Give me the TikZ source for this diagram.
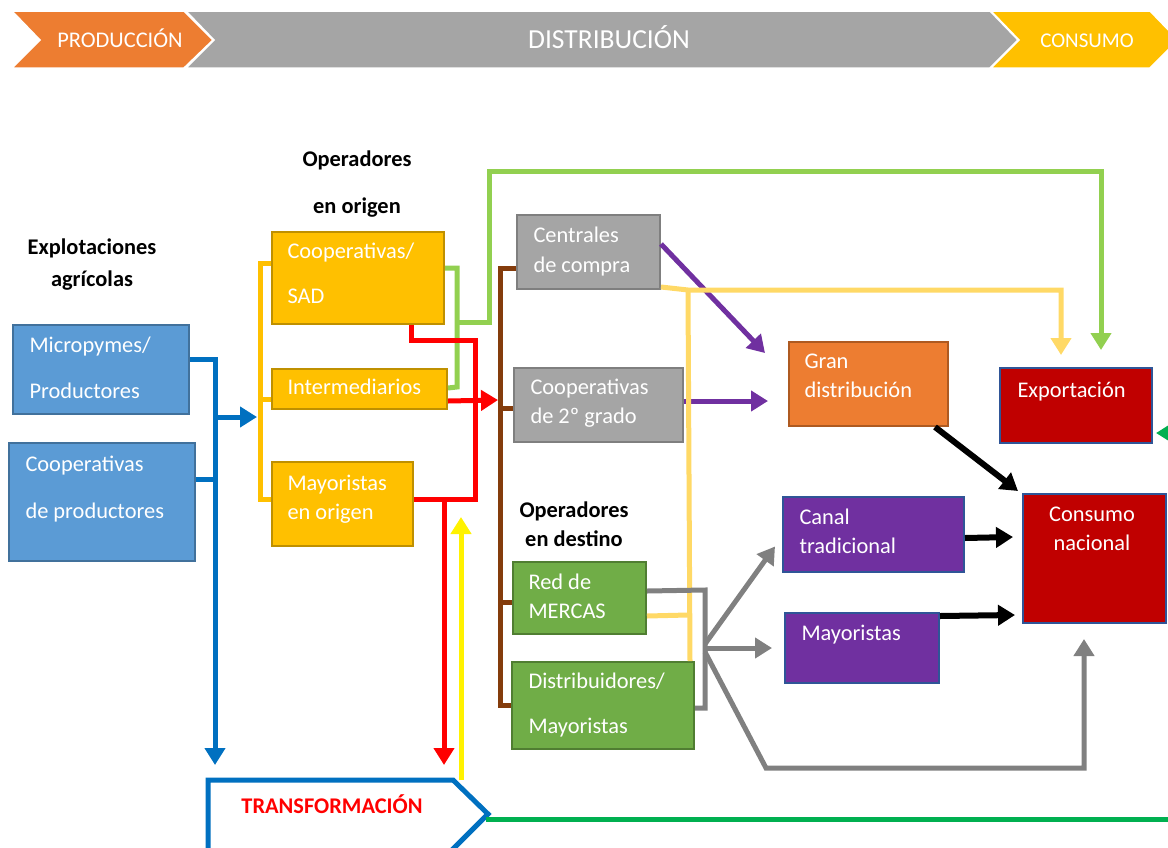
\documentclass[tikz,border=0pt]{standalone}
\usepackage{fontspec}
\setmainfont{Carlito}
\usetikzlibrary{arrows.meta}

\definecolor{prodblue}{HTML}{5B9BD5}
\definecolor{prodedge}{HTML}{41719C}
\definecolor{origgold}{HTML}{FFC000}
\definecolor{origedge}{HTML}{BF9000}
\definecolor{destgray}{HTML}{A5A5A5}
\definecolor{grayedge}{HTML}{7F7F7F}
\definecolor{granorange}{HTML}{ED7D31}
\definecolor{orangeedge}{HTML}{AE5A21}
\definecolor{consred}{HTML}{C00000}
\definecolor{navyedge}{HTML}{2F5597}
\definecolor{mercgreen}{HTML}{70AD47}
\definecolor{greenedge}{HTML}{507E32}
\definecolor{canalpurple}{HTML}{7030A0}
\definecolor{linkblue}{HTML}{0070C0}
\definecolor{linkgreen}{HTML}{92D050}
\definecolor{linkbrown}{HTML}{843C0C}
\definecolor{linkpale}{HTML}{FFD966}
\definecolor{linkgray}{HTML}{808080}
\definecolor{linkexp}{HTML}{00B050}

\begin{document}
\begin{tikzpicture}
[x=1pt, y=-1pt, line width=5pt,
font=\fontsize{22.4}{29}\selectfont,
box/.style={rectangle, draw, line width=2pt, inner sep=0pt, anchor=north west},
prodbox/.style={box, fill=prodblue, draw=prodedge},
origbox/.style={box, fill=origgold, draw=origedge},
centbox/.style={box, fill=destgray, draw=grayedge},
granbox/.style={box, fill=granorange, draw=orangeedge},
consbox/.style={box, fill=consred, draw=navyedge},
mercbox/.style={box, fill=mercgreen, draw=greenedge},
canalbox/.style={box, fill=canalpurple, draw=navyedge},
txt/.style={anchor=base west, inner sep=0pt, text=white},
title/.style={anchor=base, inner sep=0pt, font=\fontsize{22.4}{29}\selectfont\bfseries},
stage/.style={anchor=base, inner sep=0pt, text=white},
link/.style={draw=#1, line width=5pt},
tip/.style={-{Triangle[length=17pt,width=20pt]}}
]
\useasboundingbox (0,0) rectangle (1168,847);
\clip (0,0) rectangle (1168,847);

\fill[granorange, draw=white, line width=1.5pt] (12,11) -- (184,11) -- (213,40) -- (184,68) -- (12,68) -- (40,40) -- cycle;
\fill[destgray, draw=white, line width=1.5pt] (186,11) -- (990,11) -- (1018,40) -- (990,68) -- (186,68) -- (214,40) -- cycle;
\fill[origgold, draw=white, line width=1.5pt] (991,11) -- (1150,11) -- (1178,40) -- (1150,68) -- (991,68) -- (1019,40) -- cycle;
\node[stage] (prod) at (120,47) {PRODUCCIÓN};
\node[stage, font=\fontsize{27.5}{30}\selectfont] (distr) at (609,48) {DISTRIBUCIÓN};
\node[stage, font=\fontsize{21}{25}\selectfont] (consu) at (1087,47) {CONSUMO};

\node[title] (explot-a) at (92,254) {Explotaciones};
\node[title] (explot-b) at (92,286) {agrícolas};
\node[title] (origen-a) at (357,166) {Operadores};
\node[title] (origen-b) at (357,213) {en origen};
\node[title] (destino-a) at (574,517) {Operadores};
\node[title] (destino-b) at (574,546) {en destino};

\node[prodbox, minimum width=176pt, minimum height=89pt] (micro) at (12,324) {};
\node[prodbox, minimum width=186pt, minimum height=118pt] (cprod) at (8,442) {};
\node[origbox, minimum width=172pt, minimum height=92pt] (coopsad) at (271,231) {};
\node[origbox, minimum width=175pt, minimum height=40pt] (inter) at (271,368) {};
\node[origbox, minimum width=141pt, minimum height=84pt] (mayo) at (271,461) {};
\node[centbox, minimum width=143pt, minimum height=74pt] (cent) at (516,214) {};
\node[centbox, minimum width=169pt, minimum height=74pt] (coop2) at (513,367) {};
\node[granbox, minimum width=159pt, minimum height=84pt] (gran) at (788,341) {};
\node[consbox, minimum width=152pt, minimum height=75pt] (expo) at (999,367) {};
\node[mercbox, minimum width=133pt, minimum height=72pt] (mercas) at (512,561) {};
\node[mercbox, minimum width=182pt, minimum height=87pt] (dist) at (511,661) {};
\node[canalbox, minimum width=181pt, minimum height=75pt] (canal) at (782,496) {};
\node[canalbox, minimum width=154pt, minimum height=70pt] (mayor) at (784,612) {};
\node[consbox, minimum width=143pt, minimum height=129pt] (nac) at (1022,493) {};

\node[txt] (micro-a) at (27,352) {Micropymes/};
\node[txt] (micro-b) at (27,398) {Productores};
\node[txt] (cprod-a) at (23,471) {Cooperativas};
\node[txt] (cprod-b) at (23,518) {de productores};
\node[txt] (coopsad-a) at (285,258) {Cooperativas/};
\node[txt] (coopsad-b) at (285,303) {SAD};
\node[txt] (inter-a) at (285,394) {Intermediarios};
\node[txt] (mayo-a) at (285,490) {Mayoristas};
\node[txt] (mayo-b) at (285,519) {en origen};
\node[txt] (cent-a) at (531,242) {Centrales};
\node[txt] (cent-b) at (531,272) {de compra};
\node[txt] (coop2-a) at (528,394) {Cooperativas};
\node[txt] (coop2-b) at (528,423) {de 2º grado};
\node[txt] (gran-a) at (802,368) {Gran};
\node[txt] (gran-b) at (802,397) {distribución};
\node[txt] (expo-a) at (1015,397) {Exportación};
\node[txt] (mercas-a) at (526,589) {Red de};
\node[txt] (mercas-b) at (526,618) {MERCAS};
\node[txt] (dist-a) at (526,688) {Distribuidores/};
\node[txt] (dist-b) at (526,733) {Mayoristas};
\node[txt] (canal-a) at (797,524) {Canal};
\node[txt] (canal-b) at (797,553) {tradicional};
\node[txt] (mayor-a) at (799,640) {Mayoristas};
\node[stage] (nac-a) at (1092,521) {Consumo};
\node[stage] (nac-b) at (1092,550) {nacional};

\draw[linkblue, fill=white, line width=5pt] (208,780) -- (453,780) -- (488,814) -- (451,851) -- (208,851) -- cycle;
\node[title, text=red] (transf) at (332,813) {TRANSFORMACIÓN};
\coordinate (transf-top) at (461,780);
\coordinate (transf-tip) at (486,819);

\coordinate (blue-end) at (215,765);
\coordinate (blue-j) at (215,417);
\coordinate (red-end) at (444,765);
\coordinate (red-j) at (444,498);
\coordinate (yellow-end) at (461,517);

\draw[link=linkblue, tip] ([yshift=10.5pt]micro.east) -| (blue-end);
\draw[link=linkblue] ([yshift=23pt]cprod.east) -- ++(21,0);
\draw[link=linkblue, tip] (blue-j) -- (257,417);

\draw[link=origgold] ([yshift=15pt]coopsad.west) -- ++(-11,0) |- ([yshift=5pt]mayo.west);
\draw[link=origgold] ([yshift=-10pt]inter.west) -- ++(-11,0);

\draw[link=linkgreen] ([yshift=10pt]coopsad.east) -| (457,387) -- ([yshift=1pt]inter.east);
\draw[link=linkgreen, tip] (457,322) -| (489,171) -| ([xshift=25pt,yshift=17pt]expo.north);

\draw[link=red] ([xshift=53pt]coopsad.south) |- (475,340) |- ([yshift=5pt]mayo.east);
\draw[link=red, tip] (red-j) -- (red-end);
\draw[link=red, tip] ([yshift=-12pt]inter.east) -- (498,400);

\draw[link=yellow, tip] (transf-top) -- (yellow-end);

\draw[link=linkbrown] ([yshift=-16pt]cent.west) -- ++(-16,0) |- (dist.west);
\draw[link=linkbrown] ([yshift=-3pt]coop2.west) -- ++(-13,0);
\draw[link=linkbrown] ([yshift=-4pt]mercas.west) -- ++(-12,0);

\draw[link=canalpurple, tip] ([yshift=8pt]cent.east) -- ([xshift=-23pt,yshift=-12pt]gran.north west);
\draw[link=canalpurple, tip] ([yshift=4pt]coop2.east) -- ([xshift=-20pt,yshift=-17pt]gran.west);

\draw[link=linkpale, tip] ([yshift=3pt]cent.south east) -- (688,290) -| ([xshift=-15pt,yshift=12pt]expo.north);
\draw[link=linkpale] (688,290) -- ([xshift=-5pt]dist.north east);
\draw[link=linkpale] ([yshift=-18pt]mercas.east) -- (688,615);

\draw[link=linkgray] ([yshift=7pt]mercas.east) -- (705,590) |- ([yshift=-2.5pt]dist.east);
\draw[link=linkgray, tip] (705,644) -- ([xshift=-7pt,yshift=-12pt]canal.west);
\draw[link=linkgray, tip] (705,648) -- ([xshift=-12pt]mayor.west);
\draw[link=linkgray, tip] (705,652) -- (766,768) -| ([xshift=-10.5pt,yshift=-15pt]nac.south);

\draw[link=black, line width=6pt, tip] ([xshift=-14pt]gran.south east) -- ([xshift=-4pt,yshift=2pt]nac.north west);
\draw[link=black, line width=6pt, tip] ([yshift=-3.5pt]canal.east) -- (1013,537);
\draw[link=black, line width=6pt, tip] ([yshift=32pt]mayor.east) -- (1015,615);

\draw[link=linkexp] (transf-tip) -- (1170,819);
\draw[link=linkexp, tip] (1200,433) -- (1156,433);
\end{tikzpicture}
\end{document}
